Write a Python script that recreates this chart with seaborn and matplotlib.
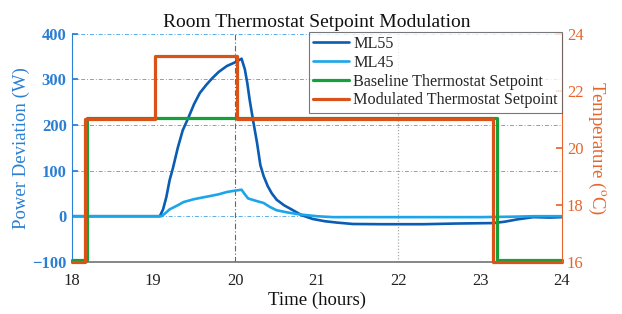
import numpy as np
import pandas as pd
import matplotlib
matplotlib.use("Agg")
import matplotlib.pyplot as plt
import seaborn as sns

# ---- data ----
t_ml55 = [18.0, 19.08, 19.12, 19.16, 19.2, 19.24, 19.3, 19.36, 19.43, 19.5, 19.57, 19.65,
          19.72, 19.8, 19.9, 20.0, 20.08, 20.12, 20.15, 20.18, 20.22, 20.27, 20.31, 20.35,
          20.4, 20.45, 20.51, 20.6, 20.7, 20.82, 20.95, 21.1, 21.25, 21.44, 21.8, 22.3,
          22.71, 23.16, 23.3, 23.45, 23.65, 23.85, 24.0]
p_ml55 = [0, 0, 15, 42, 79, 105, 150, 188, 216, 246, 270, 288,
          302, 316, 329, 337, 345, 322, 292, 254, 211, 160, 112, 88,
          66, 50, 36, 24, 14, 2, -6, -11, -14, -17, -17.5, -17.5,
          -16, -15, -12, -7, -2, -3, -2]

t_ml45 = [18.0, 19.1, 19.15, 19.2, 19.3, 19.37, 19.49, 19.6, 19.69, 19.8, 19.9, 20.0, 20.08,
          20.12, 20.16, 20.25, 20.35, 20.43, 20.51, 20.65, 20.79, 21.0, 21.2, 22.0, 23.0,
          23.4, 23.65, 24.0]
p_ml45 = [0, 0, 7, 15, 24, 31, 37, 41, 44, 48, 53, 56, 58,
          48, 39, 34, 29, 20, 13, 8, 4, 0, -2, -2, -2,
          -1, 0, 0]

t_base = [18.0, 18.19, 23.2, 24.0]
temp_base = [16.05, 21.05, 16.05, 16.05]

t_mod = [18.0, 18.17, 19.02, 20.02, 23.16, 24.0]
temp_mod = [16.0, 21.0, 23.2, 21.0, 16.0, 16.0]

x_ticks = [18, 19, 20, 21, 22, 23, 24]
y_ticks = [-100, 0, 100, 200, 300, 400]
t_ticks = [16, 18, 20, 22, 24]

labels = ["ML55", "ML45", "Baseline Thermostat Setpoint", "Modulated Thermostat Setpoint"]
colors = ["#0b5cb3", "#1ba6ea", "#16a03c", "#d95319"]
left_color = "#2a7fd4"
right_color = "#e8642a"

sns.set_theme(style="white")
plt.rcParams["font.family"] = ["Liberation Serif", "DejaVu Serif"]
plt.rcParams["mathtext.fontset"] = "stix"

fig = plt.figure(figsize=(6.22, 3.14), dpi=100)
ax = fig.add_axes([0.115, 0.166, 0.7885, 0.727])
ax2 = ax.twinx()

df55 = pd.DataFrame({"t": t_ml55, "p": p_ml55})
df45 = pd.DataFrame({"t": t_ml45, "p": p_ml45})
dfb = pd.DataFrame({"t": t_base, "T": temp_base})
dfm = pd.DataFrame({"t": t_mod, "T": temp_mod})

# grid lines
for yv in [0, 100, 200, 300, 400]:
    ax.axhline(yv, color="#5aaee8", lw=0.7, ls=(0, (4, 2, 1, 2)), zorder=0)
ax.axvline(20, color="#666666", lw=0.8, ls=(0, (5, 2, 1, 2)), zorder=0)
ax.axvline(22, color="#aaaaaa", lw=0.9, ls=(0, (1, 1.5)), zorder=0)

sns.lineplot(data=df55, x="t", y="p", ax=ax, color=colors[0], lw=1.9, label=labels[0], legend=False)
sns.lineplot(data=df45, x="t", y="p", ax=ax, color=colors[1], lw=1.9, label=labels[1], legend=False)
sns.lineplot(data=dfb, x="t", y="T", ax=ax2, color=colors[2], lw=2.3, drawstyle="steps-post",
             label=labels[2], legend=False, clip_on=False)
sns.lineplot(data=dfm, x="t", y="T", ax=ax2, color=colors[3], lw=2.3, drawstyle="steps-post",
             label=labels[3], legend=False, clip_on=False)

ax.set_xlim(18, 24)
ax.set_ylim(-100, 400)
ax2.set_ylim(16, 24)
ax.set_xticks(x_ticks)
ax.set_yticks(y_ticks)
ax2.set_yticks(t_ticks)

ax.tick_params(axis="x", direction="in", length=4, colors="#555555", labelcolor="#222222",
               labelsize=12, pad=8)
ax.tick_params(axis="y", direction="in", length=4, colors=left_color, labelcolor=left_color,
               labelsize=12)
ax2.tick_params(axis="y", direction="in", length=4, colors=right_color, labelcolor=right_color,
                labelsize=12)
for lab in ax.get_yticklabels():
    lab.set_fontweight("bold")

for a in (ax, ax2):
    a.spines["top"].set_visible(False)
    a.set_xlabel("")
    a.set_ylabel("")
ax.spines["left"].set_color(left_color)
ax.spines["bottom"].set_color("#777777")
ax.spines["right"].set_visible(False)
ax2.spines["left"].set_visible(False)
ax2.spines["bottom"].set_visible(False)
ax2.spines["right"].set_color(right_color)
ax2.spines["right"].set_linewidth(0.8)
ax.spines["left"].set_linewidth(0.8)

ax.set_xlabel("Time (hours)", fontsize=13.5, color="#111111", labelpad=2)
ax.set_ylabel("Power Deviation (W)", fontsize=13.5, color=left_color, labelpad=2)
ax2.set_ylabel(r"Temperature ($^{\rm o}$C)", fontsize=13.5, color=right_color, rotation=270,
               labelpad=17)
ax.set_title("Room Thermostat Setpoint Modulation", fontsize=14, color="#111111", pad=5)

h1, l1 = ax.get_legend_handles_labels()
h2, l2 = ax2.get_legend_handles_labels()
leg = ax2.legend(h1 + h2, l1 + l2, loc="upper right", bbox_to_anchor=(1.0, 1.008),
                 fontsize=11.6, frameon=True, fancybox=False, edgecolor="#555555",
                 handlelength=2.2, handletextpad=0.3, labelspacing=0.18, borderpad=0.25,
                 borderaxespad=0.0)
leg.get_frame().set_linewidth(0.8)

fig.savefig("out.png", dpi=100)
